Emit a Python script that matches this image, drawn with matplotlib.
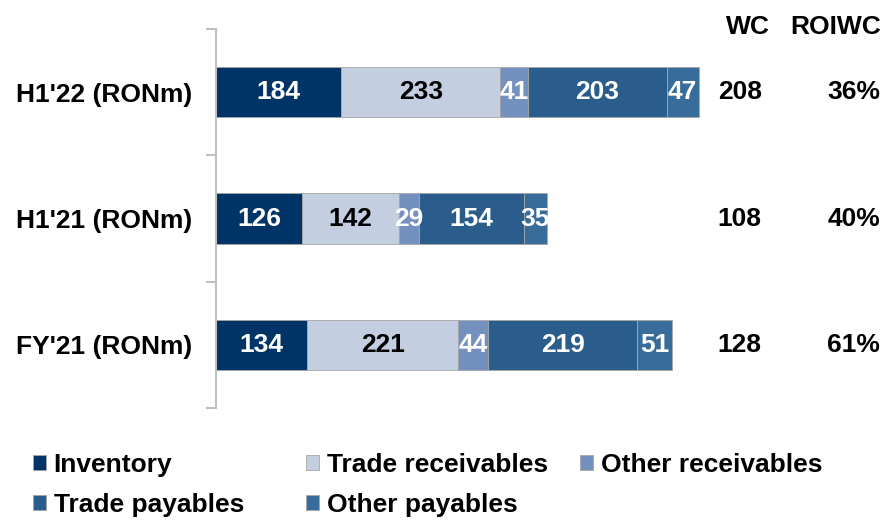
import matplotlib.pyplot as plt
import numpy as np

plt.rcParams['font.family'] = ['Liberation Sans', 'DejaVu Sans']
plt.rcParams['font.weight'] = 'bold'

categories = ["H1'22 (RONm)", "H1'21 (RONm)", "FY'21 (RONm)"]
series = ["Inventory", "Trade receivables", "Other receivables",
          "Trade payables", "Other payables"]
inventory = [184, 126, 134]
trade_rec = [233, 142, 221]
other_rec = [41, 29, 44]
trade_pay = [203, 154, 219]
other_pay = [47, 35, 51]
wc = [208, 108, 128]
roiwc = ["36%", "40%", "61%"]

colors = ["#003366", "#C3CEE0", "#7390BE", "#2B5D8C", "#386C9B"]
label_colors = ["white", "black", "white", "white", "white"]

fig = plt.figure(figsize=(8.89, 5.2), dpi=100)
ax = fig.add_axes([216/889, 1-408/520, 673/889, 379/520])

ypos = np.array([2, 1, 0])
left = np.zeros(3)
handles = []
for name, vals, col, lc in zip(series, [inventory, trade_rec, other_rec, trade_pay, other_pay],
                                colors, label_colors):
    bars = ax.barh(ypos, vals, left=left, height=0.4, color=col,
                   edgecolor="#A6A6A6", linewidth=0.6, label=name)
    ax.bar_label(bars, labels=[str(v) for v in vals], label_type='center',
                 color=lc, fontsize=19, fontweight='bold')
    handles.append(bars)
    left = left + np.array(vals)

ax.set_xlim(0, 987)
ax.set_ylim(-0.5, 2.5)

# WC / ROIWC columns
for y, w, r in zip(ypos, wc, roiwc):
    ax.text(768, y, str(w), ha='center', va='center', fontsize=19, fontweight='bold')
    ax.text(974, y, r, ha='right', va='center', fontsize=19, fontweight='bold', clip_on=False)
ax.text(780, 1.006, "WC", transform=ax.get_xaxis_transform(), ha='center',
        va='center', fontsize=19, fontweight='bold', clip_on=False)
ax.text(908, 1.006, "ROIWC", transform=ax.get_xaxis_transform(), ha='center',
        va='center', fontsize=19, fontweight='bold', clip_on=False)

ax.set_yticks(ypos)
ax.set_yticklabels(categories, fontsize=19, fontweight='bold')
ax.tick_params(axis='y', which='major', length=0, pad=17)
ax.set_yticks([-0.5, 0.5, 1.5, 2.5], minor=True)
ax.tick_params(axis='y', which='minor', length=7, width=1.5, color='#BFBFBF', direction='out')
ax.xaxis.set_visible(False)
for s in ['top', 'right', 'bottom']:
    ax.spines[s].set_visible(False)
ax.spines['left'].set_color('#BFBFBF')
ax.spines['left'].set_linewidth(1.5)

# legend laid out in rows like the original
cols = [[0, 3], [1, 4], [2]]
xs = [33, 306, 580]
for idx, x in zip(cols, xs):
    lg = fig.legend([handles[i] for i in idx], [series[i] for i in idx],
                    loc='upper left', bbox_to_anchor=(x/889, 1-453/520),
                    frameon=False, borderpad=0, borderaxespad=0,
                    handlelength=0.5, handleheight=0.5, handletextpad=0.28,
                    labelspacing=0.6, prop={'size': 19, 'weight': 'bold'})

fig.savefig("out.png", dpi=100)
